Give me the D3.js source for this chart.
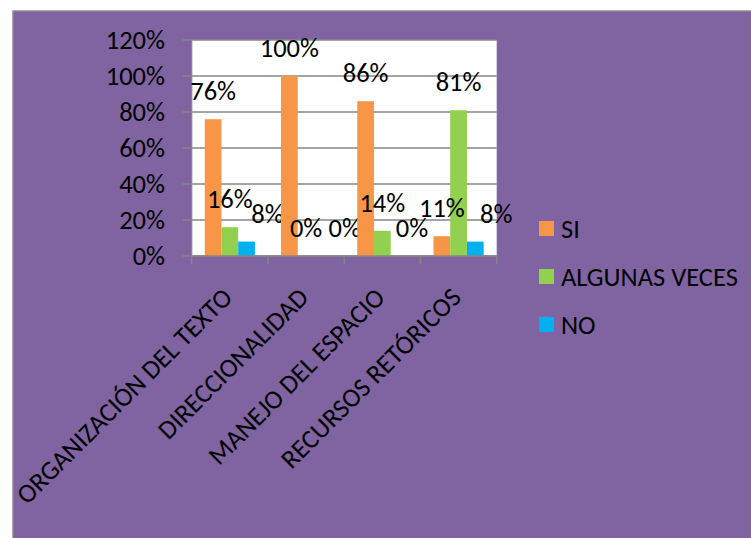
<!DOCTYPE html>
<html><head><meta charset="utf-8">
<script src="https://cdn.jsdelivr.net/npm/d3@7"></script>
<style>
body{margin:0;background:#fff;}
text{font-family:Carlito,Calibri,Lato,sans-serif;fill:#000;}
</style></head>
<body><svg id="chart" width="751" height="538"></svg>
<script>
const categories = ["ORGANIZACIÓN DEL TEXTO","DIRECCIONALIDAD","MANEJO DEL ESPACIO","RECURSOS RETÓRICOS"];
const seriesNames = ["SI","ALGUNAS VECES","NO"];
const siValues = [0.76, 1.00, 0.86, 0.11];
const algunasValues = [0.16, 0.00, 0.14, 0.81];
const noValues = [0.08, 0.00, 0.00, 0.08];
const seriesColors = ["#F79646","#92D050","#00B0F0"];
const yTicks = [0, 0.2, 0.4, 0.6, 0.8, 1.0, 1.2];
const yTickLabels = ["0%","20%","40%","60%","80%","100%","120%"];

const seriesValues = [siValues, algunasValues, noValues];
const svg = d3.select("#chart");
const FS = 26.5;

// chart background
svg.append("rect").attr("x",13).attr("y",11).attr("width",760).attr("height",540)
  .attr("fill","#8064A2").attr("stroke","#8C8C8C").attr("stroke-width",1.5);

const plot = {left:191.7, right:496.7, top:40, bottom:256};
svg.append("rect").attr("x",plot.left).attr("y",plot.top)
  .attr("width",plot.right-plot.left).attr("height",plot.bottom-plot.top).attr("fill","#fff");

const x0 = d3.scaleBand().domain(categories).range([plot.left, plot.right]).paddingInner(0).paddingOuter(0);
const x1 = d3.scaleBand().domain(seriesNames).range([0, x0.bandwidth()]).paddingInner(0).paddingOuter(0.78);
const y = d3.scaleLinear().domain([0, 1.2]).range([plot.bottom, plot.top]);

// gridlines
svg.append("g").selectAll("line").data(yTicks).join("line")
  .attr("x1", plot.left-9).attr("x2", plot.right)
  .attr("y1", d=>y(d)).attr("y2", d=>y(d))
  .attr("stroke","#868686").attr("stroke-width",1.3);

// y axis line
svg.append("line").attr("x1",plot.left).attr("x2",plot.left).attr("y1",plot.top).attr("y2",plot.bottom)
  .attr("stroke","#868686").attr("stroke-width",1.3);

// y tick labels
svg.append("g").selectAll("text").data(yTicks).join("text")
  .attr("x",165).attr("y",d=>y(d)).attr("dy","0.34em")
  .attr("text-anchor","end").style("font-size",FS+"px")
  .text((d,i)=>yTickLabels[i]);

// bars
const groups = svg.append("g").selectAll("g").data(categories).join("g")
  .attr("transform", d=>`translate(${x0(d)},0)`);
groups.selectAll("rect").data((c,ci)=>seriesNames.map((s,si)=>({s, si, ci, v:seriesValues[si][ci]})))
  .join("rect")
  .attr("x", d=>x1(d.s)).attr("width", x1.bandwidth())
  .attr("y", d=>y(d.v)).attr("height", d=>plot.bottom - y(d.v))
  .attr("fill", d=>seriesColors[d.si]);

// bottom axis
svg.append("line").attr("x1",plot.left).attr("x2",plot.right).attr("y1",plot.bottom).attr("y2",plot.bottom)
  .attr("stroke","#868686").attr("stroke-width",1.5);
const edges = categories.map(c=>x0(c)).concat([plot.right]);
svg.append("g").selectAll("line").data(edges).join("line")
  .attr("x1",d=>d).attr("x2",d=>d).attr("y1",plot.bottom).attr("y2",plot.bottom+8)
  .attr("stroke","#868686").attr("stroke-width",1.5);

// data labels (NO-series labels nudged right, as in the original)
const noLabelShift = [21, 22, 13, 21];
groups.selectAll("text").data((c,ci)=>seriesNames.map((s,si)=>({s, si, ci, v:seriesValues[si][ci]})))
  .join("text")
  .attr("x", d=>x1(d.s)+x1.bandwidth()/2+(d.si===2?noLabelShift[d.ci]:0))
  .attr("y", d=>y(d.v)-19)
  .attr("text-anchor","middle").style("font-size",FS+"px")
  .text(d=>Math.round(d.v*100)+"%");

// category labels
svg.append("g").selectAll("text").data(categories).join("text")
  .attr("transform", d=>`translate(${x0(d)+x0.bandwidth()/2+4},299) rotate(-45)`)
  .attr("text-anchor","end").style("font-size",FS+"px")
  .text(d=>d);

// legend
const legend = svg.append("g").selectAll("g").data(seriesNames).join("g")
  .attr("transform",(d,i)=>`translate(539,${221+i*48})`);
legend.append("rect").attr("width",15).attr("height",15).attr("fill",(d,i)=>seriesColors[i]);
legend.append("text").attr("x",22).attr("y",7.5).attr("dy","0.34em")
  .style("font-size",FS+"px").text(d=>d);
</script></body></html>
